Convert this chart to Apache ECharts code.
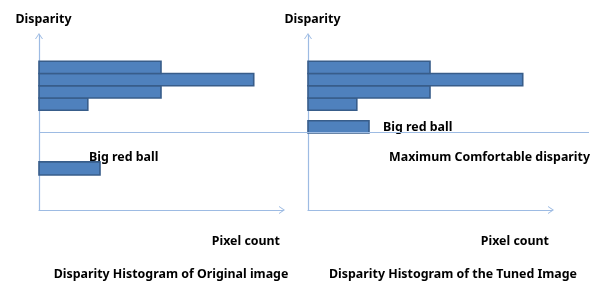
<!DOCTYPE html>
<html>
<head>
<meta charset="utf-8">
<script src="https://cdn.jsdelivr.net/npm/echarts@6/dist/echarts.min.js"></script>
<style>html,body{margin:0;padding:0;background:#fff}#c{width:602px;height:284px}</style>
</head>
<body>
<div id="c"></div>
<script>
// Disparity bins (low/high edges), bottom to top
const binLow = [57, 64, 71, 78];
const binHigh = [64, 71, 78, 85];
const originalCounts = [20, 50, 88, 50];
const tunedCounts = [20, 50, 88, 50];
// Big red ball: [low, high, count]
const ballOriginal = [20, 27.5, 25];
const ballTuned = [44, 51, 25];
const comfortLimit = 44.5;
const titles = ['Disparity Histogram of Original image', 'Disparity Histogram of the Tuned Image'];

const FONT = 'Noto Sans';
const FS = 12.4;
const AXIS_COLOR = '#9DBBE3';
const arrow = 'path://M0,6 L4,0 L8,6 L7,6 L4,1.6 L1,6 Z';

function rows(counts, ball) {
  const r = binLow.map((lo, i) => [lo, binHigh[i], counts[i]]);
  r.push(ball);
  return r;
}
function renderItem(params, api) {
  const lo = api.value(0), hi = api.value(1), cnt = api.value(2);
  const p0 = api.coord([0, hi]);
  const p1 = api.coord([cnt, lo]);
  return {
    type: 'rect',
    shape: { x: p0[0], y: p0[1], width: p1[0] - p0[0], height: p1[1] - p0[1] },
    style: { fill: '#4F81BD', stroke: '#385D8A', lineWidth: 1.6 }
  };
}
const axisLine = {
  show: true, symbol: ['none', arrow], symbolSize: [8, 6], symbolOffset: [0, -1],
  lineStyle: { color: AXIS_COLOR, width: 1.2 }
};
function xAx(gi) {
  return {
    type: 'value', gridIndex: gi, min: 0, max: 100,
    axisLine: axisLine, axisTick: { show: false }, axisLabel: { show: false }, splitLine: { show: false },
    name: 'Pixel count', nameLocation: 'end', nameGap: -3,
    nameTextStyle: { fontFamily: FONT, fontWeight: 'bold', fontSize: FS, color: '#000', align: 'right', verticalAlign: 'top', padding: [25, 0, 0, 0] }
  };
}
function yAx(gi) {
  return {
    type: 'value', gridIndex: gi, min: 0, max: 100,
    axisLine: axisLine, axisTick: { show: false }, axisLabel: { show: false }, splitLine: { show: false },
    name: 'Disparity', nameLocation: 'end', nameGap: 16,
    nameTextStyle: { fontFamily: FONT, fontWeight: 'bold', fontSize: FS, color: '#000', align: 'center', verticalAlign: 'middle', padding: [0, 0, 0, 9] }
  };
}
const textStyle = { fontFamily: FONT, fontWeight: 'bold', fontSize: FS, fill: '#000' };

const chart = echarts.init(document.getElementById('c'), null, { renderer: 'canvas' });
chart.setOption({
  animation: false,
  backgroundColor: '#fff',
  title: [
    { text: titles[0], left: 171, top: 268, textAlign: 'center', textStyle: { fontFamily: FONT, fontWeight: 'bold', fontSize: FS, color: '#000' }, padding: 0 },
    { text: titles[1], left: 453, top: 268, textAlign: 'center', textStyle: { fontFamily: FONT, fontWeight: 'bold', fontSize: FS, color: '#000' }, padding: 0 }
  ],
  grid: [
    { left: 39, top: 35, width: 244, height: 175 },
    { left: 308, top: 35, width: 244, height: 175 },
    { left: 39, top: 35, width: 550, height: 175 }
  ],
  xAxis: [xAx(0), xAx(1), { type: 'value', gridIndex: 2, min: 0, max: 1, show: false }],
  yAxis: [yAx(0), yAx(1), { type: 'value', gridIndex: 2, min: 0, max: 100, show: false }],
  series: [
    {
      type: 'line', xAxisIndex: 2, yAxisIndex: 2, data: [], silent: true,
      markLine: {
        silent: true, symbol: ['none', 'none'],
        lineStyle: { color: AXIS_COLOR, width: 1.2, type: 'solid' },
        label: { show: false },
        data: [{ yAxis: comfortLimit }]
      },
      z: 1
    },
    { type: 'custom', xAxisIndex: 0, yAxisIndex: 0, renderItem: renderItem, encode: { x: 2, y: [0, 1] }, data: rows(originalCounts, ballOriginal), z: 3 },
    { type: 'custom', xAxisIndex: 1, yAxisIndex: 1, renderItem: renderItem, encode: { x: 2, y: [0, 1] }, data: rows(tunedCounts, ballTuned), z: 3 }
  ],
  graphic: [
    { type: 'text', left: 89, top: 151, style: Object.assign({ text: 'Big red ball' }, textStyle) },
    { type: 'text', left: 383, top: 121, style: Object.assign({ text: 'Big red ball' }, textStyle) },
    { type: 'text', right: 12, top: 151, style: Object.assign({ text: 'Maximum Comfortable disparity' }, textStyle) }
  ]
});
</script>
</body>
</html>
